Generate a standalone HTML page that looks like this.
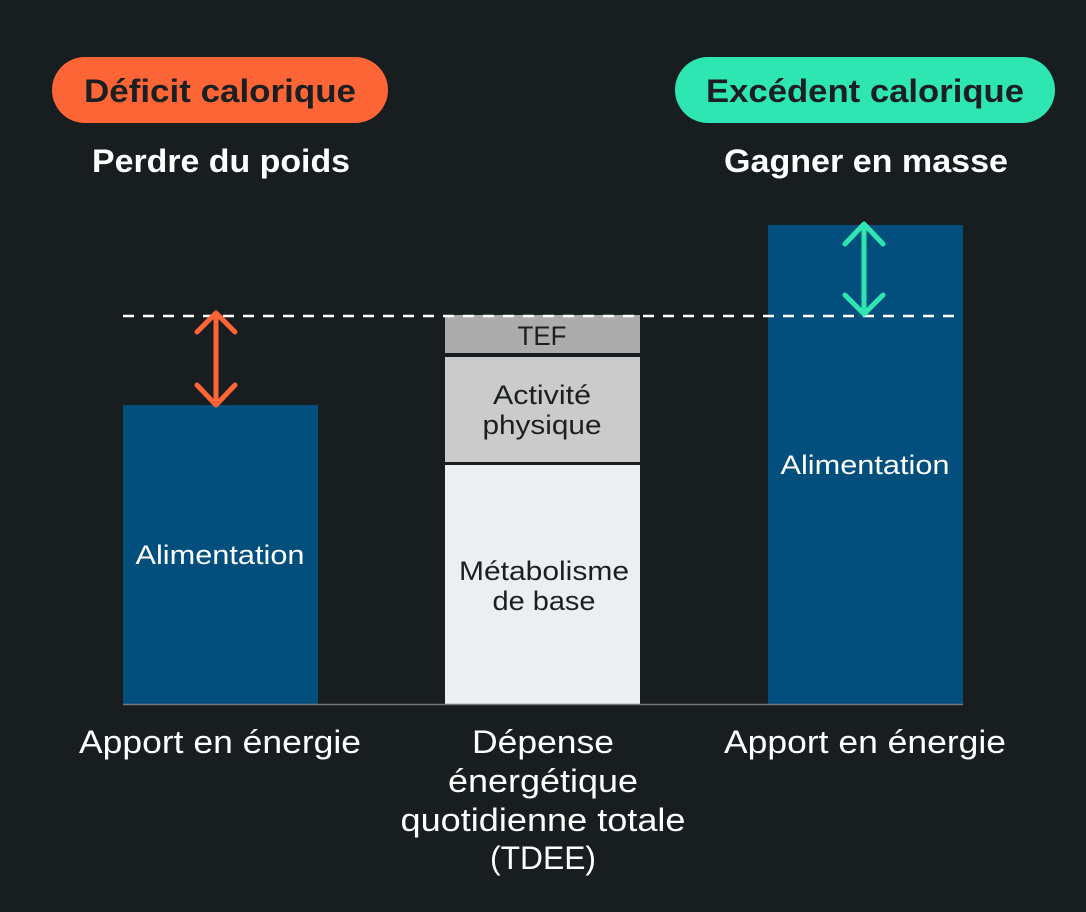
<!DOCTYPE html>
<html><head><meta charset="utf-8"><style>
html,body{margin:0;padding:0;background:#181d20;}
svg{display:block;font-family:"Liberation Sans",sans-serif;}
</style></head><body>
<svg width="1086" height="912" viewBox="0 0 1086 912">
<rect width="1086" height="912" fill="#181d20"/>
<rect x="52" y="57" width="336" height="66" rx="33" fill="#fe6536"/>
<text x="220" y="102" text-anchor="middle" font-size="32" font-weight="bold" fill="#1b1f22" textLength="272" lengthAdjust="spacingAndGlyphs">Déficit calorique</text>
<rect x="675" y="57" width="380" height="66" rx="33" fill="#2ee6b2"/>
<text x="865" y="102" text-anchor="middle" font-size="32" font-weight="bold" fill="#1b1f22" textLength="318" lengthAdjust="spacingAndGlyphs">Excédent calorique</text>
<text x="221" y="172" text-anchor="middle" font-size="32" font-weight="bold" fill="#fff" textLength="258" lengthAdjust="spacingAndGlyphs">Perdre du poids</text>
<text x="866" y="172" text-anchor="middle" font-size="32" font-weight="bold" fill="#fff" textLength="284" lengthAdjust="spacingAndGlyphs">Gagner en masse</text>

<rect x="123" y="405" width="195" height="299" fill="#024f7e"/>
<text x="220" y="564" text-anchor="middle" font-size="27" fill="#fff" textLength="169" lengthAdjust="spacingAndGlyphs">Alimentation</text>
<rect x="445" y="315" width="195" height="389" fill="#181d20"/>
<rect x="445" y="315" width="195" height="38" fill="#acacac"/>
<rect x="445" y="357" width="195" height="105" fill="#cbcbcb"/>
<rect x="445" y="465" width="195" height="239" fill="#eceff1"/>
<g font-size="27" fill="#1b1f22" text-anchor="middle">
<text x="542" y="345" textLength="49" lengthAdjust="spacingAndGlyphs">TEF</text>
<text x="542" y="404" textLength="98" lengthAdjust="spacingAndGlyphs">Activité</text>
<text x="542" y="434" textLength="119" lengthAdjust="spacingAndGlyphs">physique</text>
<text x="544" y="580" textLength="170" lengthAdjust="spacingAndGlyphs">Métabolisme</text>
<text x="544" y="610" textLength="103" lengthAdjust="spacingAndGlyphs">de base</text>
</g>
<rect x="768" y="225" width="195" height="479" fill="#024f7e"/>
<text x="865" y="474" text-anchor="middle" font-size="27" fill="#fff" textLength="169" lengthAdjust="spacingAndGlyphs">Alimentation</text>
<line x1="123" y1="704.5" x2="963" y2="704.5" stroke="#777" stroke-width="1.5"/>
<line x1="123" y1="316" x2="963" y2="316" stroke="#fff" stroke-width="2.5" stroke-dasharray="11 9"/>

<g stroke="#fe6536" stroke-width="5" stroke-linecap="round" stroke-linejoin="round" fill="none">
<line x1="216" y1="318" x2="216" y2="405"/>
<polyline points="197,332 216,313 235,332"/>
<polyline points="197,385 216,405 235,385"/>
</g>
<g stroke="#2ee6b2" stroke-width="5" stroke-linecap="round" stroke-linejoin="round" fill="none">
<line x1="864" y1="226" x2="864" y2="314"/>
<polyline points="845,244 864,224 883,244"/>
<polyline points="845,295 864,314 883,295"/>
</g>

<g font-size="32" fill="#fff" text-anchor="middle">
<text x="220" y="753" textLength="282" lengthAdjust="spacingAndGlyphs">Apport en énergie</text>
<text x="865" y="753" textLength="282" lengthAdjust="spacingAndGlyphs">Apport en énergie</text>
<text x="543" y="753" textLength="142" lengthAdjust="spacingAndGlyphs">Dépense</text>
<text x="543" y="792" textLength="190" lengthAdjust="spacingAndGlyphs">énergétique</text>
<text x="543" y="831" textLength="285" lengthAdjust="spacingAndGlyphs">quotidienne totale</text>
<text x="543" y="869" textLength="106" lengthAdjust="spacingAndGlyphs">(TDEE)</text>
</g>
</svg>
</body></html>
